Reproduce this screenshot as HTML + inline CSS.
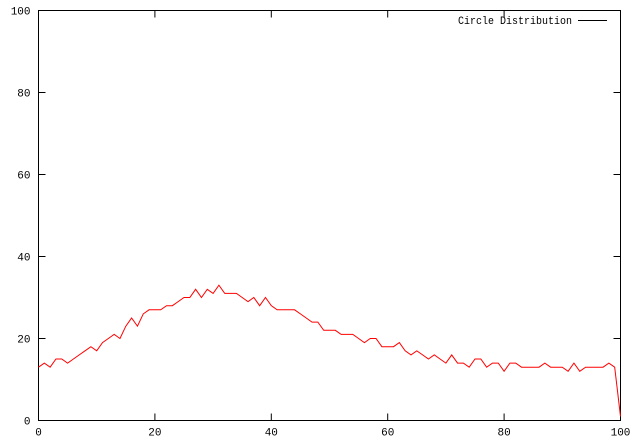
<!DOCTYPE html>
<html><head><meta charset="utf-8"><style>body{margin:0;background:#fff}svg{display:block}text{font-family:"Liberation Mono",monospace;font-size:11px;fill:#000}</style></head>
<body>
<svg id="chart" width="636" height="445" xmlns="http://www.w3.org/2000/svg">
<rect x="38.5" y="10.5" width="582" height="410" fill="none" stroke="#000"/>
<g id="axes"></g>
<text x="458" y="24" textLength="114" lengthAdjust="spacingAndGlyphs">Circle Distribution</text>
<line x1="578" y1="20.5" x2="607" y2="20.5" stroke="#000"/>
<polyline id="series" fill="none" stroke="#f00" stroke-width="1"/>
</svg>
<script>
const xTicks=[0,20,40,60,80,100];
const yTicks=[0,20,40,60,80,100];
const values=[13,14,13,15,15,14,15,16,17,18,17,19,20,21,20,23,25,23,26,27,27,27,28,28,29,30,30,32,30,32,31,33,31,31,31,30,29,30,28,30,28,27,27,27,27,26,25,24,24,22,22,22,21,21,21,20,19,20,20,18,18,18,19,17,16,17,16,15,16,15,14,16,14,14,13,15,15,13,14,14,12,14,14,13,13,13,13,14,13,13,13,12,14,12,13,13,13,13,14,13,1];
const L=38.5,R=620.5,T=10.5,B=420.5;
const sx=v=>L+(v-0)/(100-0)*(R-L);
const sy=v=>B-(v-0)/(100-0)*(B-T);
const ns="http://www.w3.org/2000/svg";
const g=document.getElementById('axes');
function mk(tag,attrs){const e=document.createElementNS(ns,tag);for(const k in attrs)e.setAttribute(k,attrs[k]);g.appendChild(e);return e;}
xTicks.forEach(t=>{
  const x=sx(t);
  const a=mk('line',{x1:x,y1:B,x2:x,y2:B-7,stroke:'#000'});
  
  
  const b=mk('line',{x1:x,y1:T,x2:x,y2:T+7,stroke:'#000'});
  
  
  const tx=mk('text',{x:x,y:B+15,'text-anchor':'middle'});
  tx.textContent=t;
  
  
});
yTicks.forEach(t=>{
  const y=sy(t);
  const a=mk('line',{x1:L,y1:y,x2:L+7,y2:y,stroke:'#000'});
  
  
  const b=mk('line',{x1:R,y1:y,x2:R-7,y2:y,stroke:'#000'});
  
  
  const tx=mk('text',{x:L-8,y:y+4,'text-anchor':'end'});
  tx.textContent=t;
  
  
});
document.getElementById('series').setAttribute('points',values.map((v,i)=>sx(i)+','+sy(v)).join(' '));
</script>
</body></html>
